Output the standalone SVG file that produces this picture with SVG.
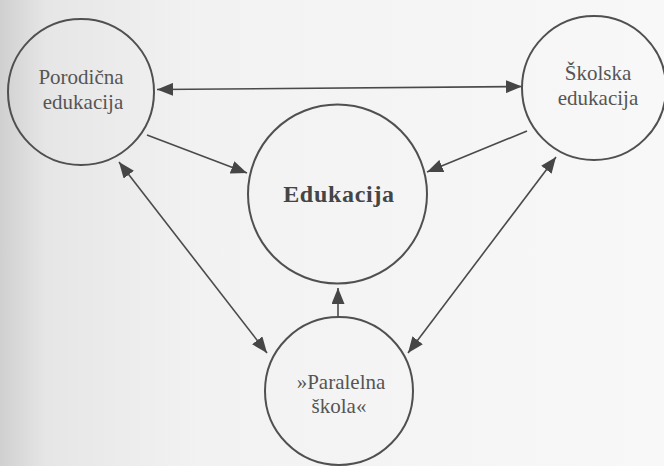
<svg xmlns="http://www.w3.org/2000/svg" width="664" height="466" viewBox="0 0 664 466">
  <defs>
    <linearGradient id="bg" x1="0" y1="0" x2="1" y2="0">
      <stop offset="0" stop-color="#d0d0d0"/>
      <stop offset="0.07" stop-color="#e6e6e6"/>
      <stop offset="0.3" stop-color="#f2f2f2"/>
      <stop offset="1" stop-color="#f8f8f8"/>
    </linearGradient>
    <marker id="ah" viewBox="0 0 16 13" refX="16" refY="6.5" markerWidth="16" markerHeight="13" markerUnits="userSpaceOnUse" orient="auto-start-reverse">
      <path d="M0,0 L16,6.5 L0,13 z" fill="#464646"/>
    </marker>
    <style>
      .node { fill: none; stroke: #505050; stroke-width: 2; }
      .lbl { font-family: 'Liberation Serif', 'DejaVu Serif', serif; font-size: 21px; fill: #555; text-anchor: middle; }
      .big { font-family: 'Liberation Serif', 'DejaVu Serif', serif; font-size: 24px; font-weight: bold; fill: #454545; text-anchor: middle; letter-spacing: 0.7px; }
      .conn { stroke: #4a4a4a; stroke-width: 1.6; fill: none; }
    </style>
  </defs>
  <rect x="0" y="0" width="664" height="466" fill="url(#bg)"/>

  <g id="connectors">
    <line class="conn" x1="157" y1="89.5" x2="522" y2="86.5" marker-start="url(#ah)" marker-end="url(#ah)"/>
    <line class="conn" x1="147" y1="135" x2="247" y2="173" marker-end="url(#ah)"/>
    <line class="conn" x1="527" y1="131" x2="427" y2="172" marker-end="url(#ah)"/>
    <line class="conn" x1="119" y1="162" x2="267" y2="353" marker-start="url(#ah)" marker-end="url(#ah)"/>
    <line class="conn" x1="556" y1="157" x2="408" y2="353" marker-start="url(#ah)" marker-end="url(#ah)"/>
    <line class="conn" x1="338" y1="317" x2="338" y2="288" marker-end="url(#ah)"/>
  </g>

  <g id="porodicna">
    <circle class="node" cx="81" cy="92" r="73"/>
    <text class="lbl" x="81" y="84">Porodična</text>
    <text class="lbl" x="83" y="109">edukacija</text>
  </g>

  <g id="skolska">
    <circle class="node" cx="594" cy="88" r="72"/>
    <text class="lbl" x="598" y="80">Školska</text>
    <text class="lbl" x="598" y="105">edukacija</text>
  </g>

  <g id="edukacija">
    <circle class="node" cx="337.5" cy="194" r="89.5"/>
    <text class="big" x="339" y="202">Edukacija</text>
  </g>

  <g id="paralelna">
    <circle class="node" cx="339" cy="391" r="74"/>
    <text class="lbl" x="341" y="389">»Paralelna</text>
    <text class="lbl" x="339" y="413">škola«</text>
  </g>
</svg>
